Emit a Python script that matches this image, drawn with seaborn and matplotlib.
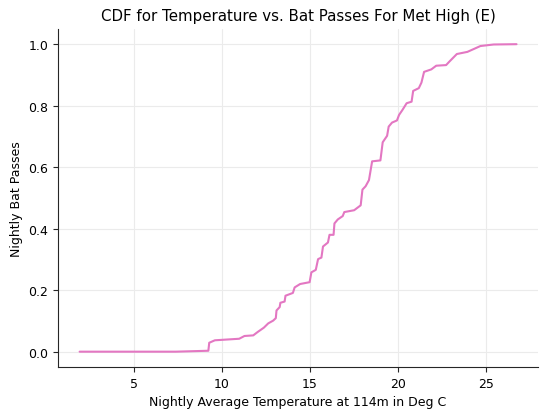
import numpy as np
import matplotlib
matplotlib.use("Agg")
import matplotlib.pyplot as plt
import seaborn as sns
import pandas as pd

# temperature (deg C) vs cumulative fraction of nightly bat passes
temperature = [1.94, 7.4, 9.25, 9.3, 9.62, 11.0, 11.3, 11.8, 12.05, 12.4, 12.65, 12.93,
               13.08, 13.12, 13.3, 13.34, 13.58, 13.63, 14.05, 14.15, 14.46, 15.0, 15.1,
               15.35, 15.48, 15.67, 15.76, 16.04, 16.13, 16.36, 16.41, 16.6, 16.88, 16.97,
               17.53, 17.9, 18.0, 18.18, 18.37, 18.55, 19.02, 19.15, 19.4, 19.49, 19.68,
               19.96, 20.08, 20.27, 20.51, 20.79, 20.88, 21.2, 21.35, 21.5, 21.91, 22.19,
               22.75, 22.93, 23.36, 23.96, 24.7, 25.45, 26.75]
cdf = [0.0, 0.0, 0.003, 0.029, 0.037, 0.042, 0.051, 0.053, 0.064, 0.078, 0.092, 0.101,
       0.109, 0.134, 0.145, 0.159, 0.163, 0.182, 0.191, 0.209, 0.22, 0.226, 0.258,
       0.266, 0.301, 0.306, 0.342, 0.355, 0.38, 0.38, 0.417, 0.43, 0.441, 0.454,
       0.46, 0.476, 0.527, 0.538, 0.558, 0.619, 0.622, 0.681, 0.702, 0.732, 0.745,
       0.752, 0.77, 0.786, 0.808, 0.813, 0.848, 0.857, 0.875, 0.91, 0.918, 0.93,
       0.932, 0.943, 0.968, 0.975, 0.994, 0.999, 1.0]

df = pd.DataFrame({"temp": temperature, "cdf": cdf})

sns.set_style("ticks", {"axes.grid": True, "grid.color": "#ebebeb"})
plt.rcParams["font.family"] = ["DejaVu Sans"]

fig, ax = plt.subplots(figsize=(5.4, 4.14), dpi=100)
sns.lineplot(data=df, x="temp", y="cdf", color="#e377c2", sort=False, ax=ax, linewidth=1.5)
ax.set_title("CDF for Temperature vs. Bat Passes For Met High (E)", fontsize=10.8, color="black")
ax.set_xlabel("Nightly Average Temperature at 114m in Deg C", fontsize=9, color="black")
ax.set_ylabel("Nightly Bat Passes", fontsize=9, color="black")
ax.tick_params(labelsize=9, labelcolor="black")
sns.despine()
fig.subplots_adjust(left=0.107, right=0.997, top=0.928, bottom=0.111)
fig.savefig("out.png", dpi=100)
